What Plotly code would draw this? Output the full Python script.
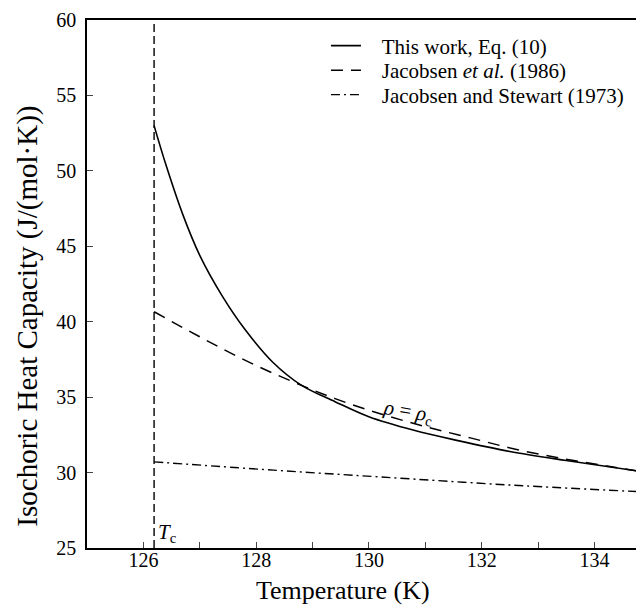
import plotly.graph_objects as go

# ---- data ----
Tc = 126.19
t_this = [126.19, 126.4, 126.7, 127.0, 127.4, 127.8, 128.3, 128.8, 129.4, 130.0, 130.8, 131.6, 132.5, 133.5, 134.87]
cv_this = [53.0, 50.4, 47.1, 44.4, 41.7, 39.5, 37.3, 35.8, 34.7, 33.7, 32.8, 32.1, 31.4, 30.8, 30.05]

t_j86 = [126.19, 127.0, 127.8, 128.6, 129.4, 130.2, 131.0, 131.8, 132.6, 133.4, 134.2, 134.87]
cv_j86 = [40.66, 39.0, 37.45, 36.1, 34.9, 33.9, 33.05, 32.3, 31.55, 30.95, 30.45, 30.05]

t_js73 = [126.19, 128.31, 130.2, 132.57, 134.87]
cv_js73 = [30.71, 30.16, 29.71, 29.16, 28.72]

names = ["This work, Eq. (10)", "Jacobsen <i>et al.</i> (1986)", "Jacobsen and Stewart (1973)"]
x_ticks = [126, 128, 130, 132, 134]
y_ticks = [25, 30, 35, 40, 45, 50, 55, 60]

FONT = "Liberation Serif"
PAD = "\u00a0\u00a0\u00a0"
fig = go.Figure()
fig.add_trace(go.Scatter(x=[Tc, Tc], y=[25, 60], mode="lines", showlegend=False,
                         line=dict(color="black", width=1.4, dash="8px,4px")))
fig.add_trace(go.Scatter(x=t_this, y=cv_this, mode="lines", name=PAD + names[0], line_shape="spline",
                         legend="legend", line=dict(color="black", width=1.6)))
fig.add_trace(go.Scatter(x=t_j86, y=cv_j86, mode="lines", name=PAD + names[1], line_shape="spline",
                         legend="legend2", line=dict(color="black", width=1.5, dash="12px,8px")))
fig.add_trace(go.Scatter(x=t_js73, y=cv_js73, mode="lines", name=PAD + names[2], line_shape="spline",
                         legend="legend3", line=dict(color="black", width=1.4, dash="9px,4px,2px,4px")))

leg = dict(x=0.429, xanchor="left", yanchor="middle", bgcolor="rgba(0,0,0,0)",
           font=dict(family=FONT, size=21, color="black"))
fig.update_layout(
    width=636, height=599,
    margin=dict(l=79, r=0, t=12, b=59),
    plot_bgcolor="white", paper_bgcolor="white",
    font=dict(family=FONT, size=20, color="black"),
    legend=dict(leg, y=0.9508),
    legend2=dict(leg, y=0.9044),
    legend3=dict(leg, y=0.858),
    xaxis=dict(range=[125, 134.88], tickvals=x_ticks, ticks="inside", ticklen=6, tickwidth=1.4,
               minor=dict(dtick=1, tick0=125, ticks="inside", ticklen=6, tickwidth=1.4),
               showline=True, linecolor="black", linewidth=1.6, mirror=True,
               showgrid=False, zeroline=False, tickfont=dict(family=FONT, size=20),
               ticklabelstandoff=-7),
    yaxis=dict(range=[25, 60], tickvals=y_ticks, ticks="inside", ticklen=6, tickwidth=1.4,
               showline=True, linecolor="black", linewidth=1.6, mirror=False,
               showgrid=False, zeroline=False, tickfont=dict(family=FONT, size=20),
               ticklabelstandoff=5),
)

fig.add_annotation(x=-0.106, xref="paper", y=40.4, yref="y", text="Isochoric Heat Capacity (J/(mol·K))",
                   textangle=-90, showarrow=False, font=dict(family=FONT, size=29), xanchor="center", yanchor="middle")
fig.add_annotation(x=129.54, xref="x", y=-0.080, yref="paper", text="Temperature (K)",
                   showarrow=False, font=dict(family=FONT, size=26), xanchor="center", yanchor="middle")
fig.add_annotation(x=Tc, y=25, text="<i>T</i><sub>c</sub>", showarrow=False, xanchor="left", yanchor="bottom",
                   xshift=2, yshift=0, font=dict(family=FONT, size=21))
fig.add_annotation(x=130.7, y=34.0, text="<i>ρ</i> = <i>ρ</i><sub>c</sub>", showarrow=False, textangle=10,
                   font=dict(family=FONT, size=21))

fig.write_html("out.html")
